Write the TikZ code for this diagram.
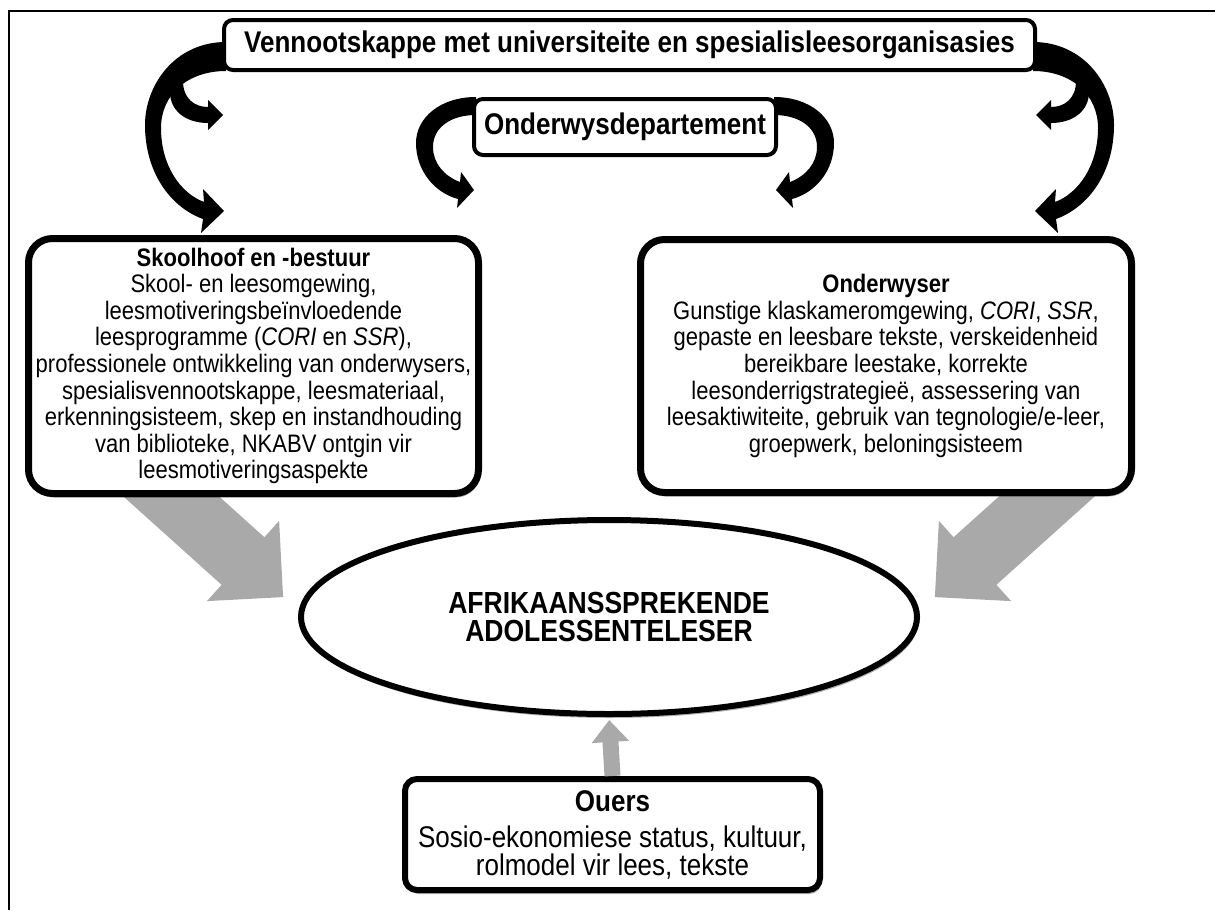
\documentclass[tikz,border=0pt]{standalone}
\usepackage{fontspec}
\setmainfont{Liberation Sans}[FakeStretch=0.87]
\usetikzlibrary{shapes.geometric,arrows.meta,shadows}
\definecolor{arrowgray}{HTML}{A9A9A9}

\tikzset{
  softshadow/.style={drop shadow={shadow xshift=1.5pt,shadow yshift=-4pt,opacity=.3,fill=black}},
  panel/.style={draw, line width=7pt, rounded corners=24pt, fill=white, align=center,
    inner sep=0pt, font=\fontsize{25.3}{26.6}\selectfont, softshadow},
  headbox/.style={draw, line width=4pt, rounded corners=9pt, fill=white, align=center,
    inner sep=0pt, font=\fontsize{29.9}{30}\selectfont\bfseries},
  readerbox/.style={draw, ellipse, line width=6pt, fill=white, align=center, inner sep=0pt,
    font=\fontsize{30.5}{27.5}\selectfont\bfseries, softshadow},
  parentbox/.style={draw, line width=6pt, rounded corners=12pt, fill=white, align=center,
    inner sep=0pt, font=\fontsize{29.9}{28}\selectfont, softshadow},
  % large curved arrow leaving a box to the left and turning down
  bigcurl/.pic={
    \fill (4,42) .. controls (-47,42) and (-77,85) .. (-77,125)
      .. controls (-77,172) and (-52,207) .. (-19,219)
      -- (-21,233) -- (2,211) -- (-19,189) -- (-18,202)
      .. controls (-42,193) and (-61,165) .. (-61,128)
      .. controls (-61,95) and (-35,71) .. (4,71) -- cycle;
  },
  % short branch springing from the inside of the large curl
  smallcurl/.pic={
    \fill (-52,92) .. controls (-52,111) and (-36,123) .. (-14,123)
      -- (-14,130) -- (1,115) -- (-14,100) -- (-14,107)
      .. controls (-27,107) and (-39,99) .. (-39,81) -- cycle;
  },
  % curl hanging from the department box
  midcurl/.pic={
    \fill (3,97) .. controls (-33,97) and (-57,118) .. (-57,143)
      .. controls (-57,171) and (-38,193) .. (-15,199)
      -- (-16,208) -- (1,190) -- (-12,172) -- (-13,182)
      .. controls (-29,176) and (-40,163) .. (-40,147)
      .. controls (-40,128) and (-23,115) .. (3,115) -- cycle;
  },
  % broad grey block arrow, drawn relative to the central axis
  grayarrow/.pic={
    \fill[arrowgray] (-463.6,430.2) -- (-344.6,537.2) -- (-329.9,520.9) -- (-325.9,597.1)
      -- (-402.1,601.1) -- (-387.4,584.8) -- (-506.4,477.8) -- cycle;
  },
}

\begin{document}
\begin{tikzpicture}[x=1pt,y=-1pt]
\useasboundingbox (0,0) rectangle (1215,910);
\draw[line width=2pt] (9,910) -- (9,11) -- (1215,11);

% grey block arrows towards the reader
\pic at (609,0) {grayarrow};
\pic[xscale=-1] at (609,0) {grayarrow};

% black curled arrows
\pic at (222,0) {bigcurl};
\pic at (222,0) {smallcurl};
\pic[xscale=-1] at (1037,0) {bigcurl};
\pic[xscale=-1] at (1037,0) {smallcurl};
\pic at (473,0) {midcurl};
\pic[xscale=-1] at (777,0) {midcurl};

\node[headbox, minimum width=811pt, minimum height=50pt] (partners) at (629.5,45)
  {Vennootskappe met universiteite en spesialisleesorganisasies};
\node[headbox, minimum width=302pt, minimum height=56pt] (dept) at (625,127)
  {Onderwysdepartement};

\node[panel, minimum width=450pt, minimum height=255pt] (school) at (253.5,366) {%
  \textbf{Skoolhoof en -bestuur}\\
  Skool- en leesomgewing,\\
  leesmotiveringsbeïnvloedende\\
  leesprogramme (\textit{CORI} en \textit{SSR}),\\
  professionele ontwikkeling van onderwysers,\\
  spesialisvennootskappe, leesmateriaal,\\
  erkenningsisteem, skep en instandhouding\\
  van biblioteke, NKABV ontgin vir\\
  leesmotiveringsaspekte};

\node[panel, minimum width=491pt, minimum height=253pt] (teacher) at (886,366) {%
  \textbf{Onderwyser}\\
  Gunstige klaskameromgewing, \textit{CORI}, \textit{SSR},\\
  gepaste en leesbare tekste, verskeidenheid\\
  bereikbare leestake, korrekte\\
  leesonderrigstrategieë, assessering van\\
  leesaktiwiteite, gebruik van tegnologie/e-leer,\\
  groepwerk, beloningsisteem};

\node[readerbox, minimum width=616pt, minimum height=194pt] (reader) at (609,617)
  {AFRIKAANSSPREKENDE\\ADOLESSENTELESER};

\node[parentbox, minimum width=415pt, minimum height=111pt] (parents) at (612.5,834.5) {%
  \textbf{Ouers}\\[8pt]
  Sosio-ekonomiese status, kultuur,\\
  rolmodel vir lees, tekste};

\draw[arrowgray, line width=16pt, shorten >=3pt, -{Triangle[width=36pt,length=22pt]}]
  (parents.north) -- (reader.south);
\end{tikzpicture}
\end{document}
